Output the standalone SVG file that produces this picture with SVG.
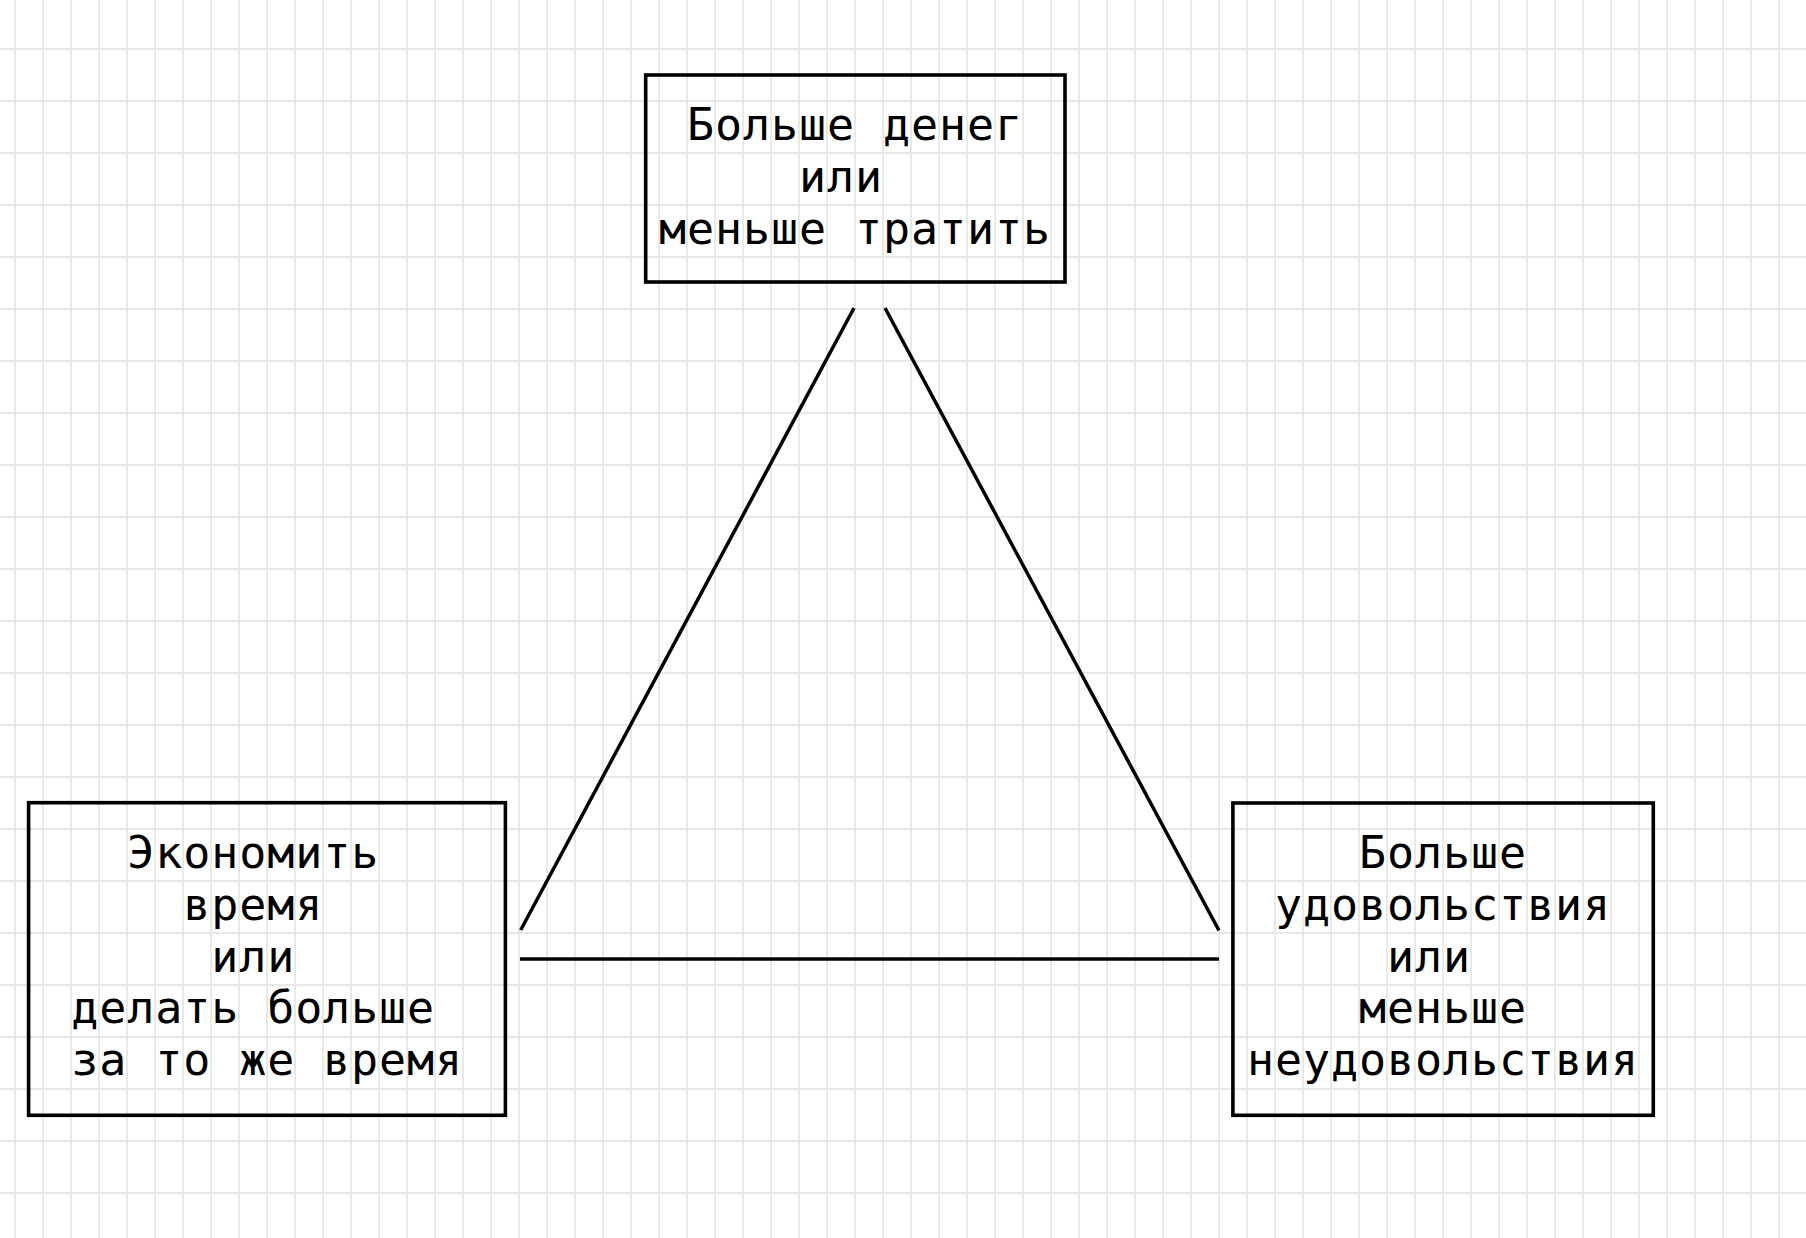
<svg xmlns="http://www.w3.org/2000/svg" width="1806" height="1238" viewBox="0 0 1806 1238">
  <style>
    .box { fill: none; stroke: #000; stroke-width: 3.6; }
    .edge { fill: none; stroke: #000; stroke-width: 3.5; stroke-linecap: butt; }
    .lbl { font-family: "DejaVu Sans Mono", "Liberation Mono", monospace; font-size: 45px; letter-spacing: 0.9px; fill: #000; }
  </style>
  <defs>
    <pattern id="grid" x="1" y="23" width="28" height="52" patternUnits="userSpaceOnUse">
      <line x1="14" y1="0" x2="14" y2="52" stroke="#e6e6e6" stroke-width="1.8"/>
      <line x1="0" y1="26" x2="28" y2="26" stroke="#e6e6e6" stroke-width="1.8"/>
    </pattern>
  </defs>
  <rect x="0" y="0" width="1806" height="1238" fill="#ffffff"/>
  <rect x="0" y="0" width="1806" height="1238" fill="url(#grid)"/>

  <g id="connectors">
    <line class="edge" x1="520.7" y1="930" x2="854" y2="308"/>
    <line class="edge" x1="885" y1="308" x2="1219" y2="930.5"/>
    <line class="edge" x1="520" y1="959" x2="1219" y2="959"/>
  </g>

  <g id="node-money">
    <rect class="box" x="645.7" y="75" width="419.3" height="207"/>
    <text class="lbl" x="687" y="140">Больше денег</text>
    <text class="lbl" x="799" y="192">или</text>
    <text class="lbl" x="659" y="244">меньше тратить</text>
  </g>

  <g id="node-time">
    <rect class="box" x="28.6" y="802.7" width="476.8" height="312.6"/>
    <text class="lbl" x="127.2" y="868.3">Экономить</text>
    <text class="lbl" x="183.2" y="919.6">время</text>
    <text class="lbl" x="211.2" y="971.7">или</text>
    <text class="lbl" x="71.2" y="1023.2">делать больше</text>
    <text class="lbl" x="71.2" y="1075">за то же время</text>
  </g>

  <g id="node-pleasure">
    <rect class="box" x="1232.9" y="803" width="420.4" height="312.3"/>
    <text class="lbl" x="1359" y="868.3">Больше</text>
    <text class="lbl" x="1275" y="919.6">удовольствия</text>
    <text class="lbl" x="1387" y="971.7">или</text>
    <text class="lbl" x="1359" y="1023.2">меньше</text>
    <text class="lbl" x="1247" y="1075">неудовольствия</text>
  </g>
</svg>
